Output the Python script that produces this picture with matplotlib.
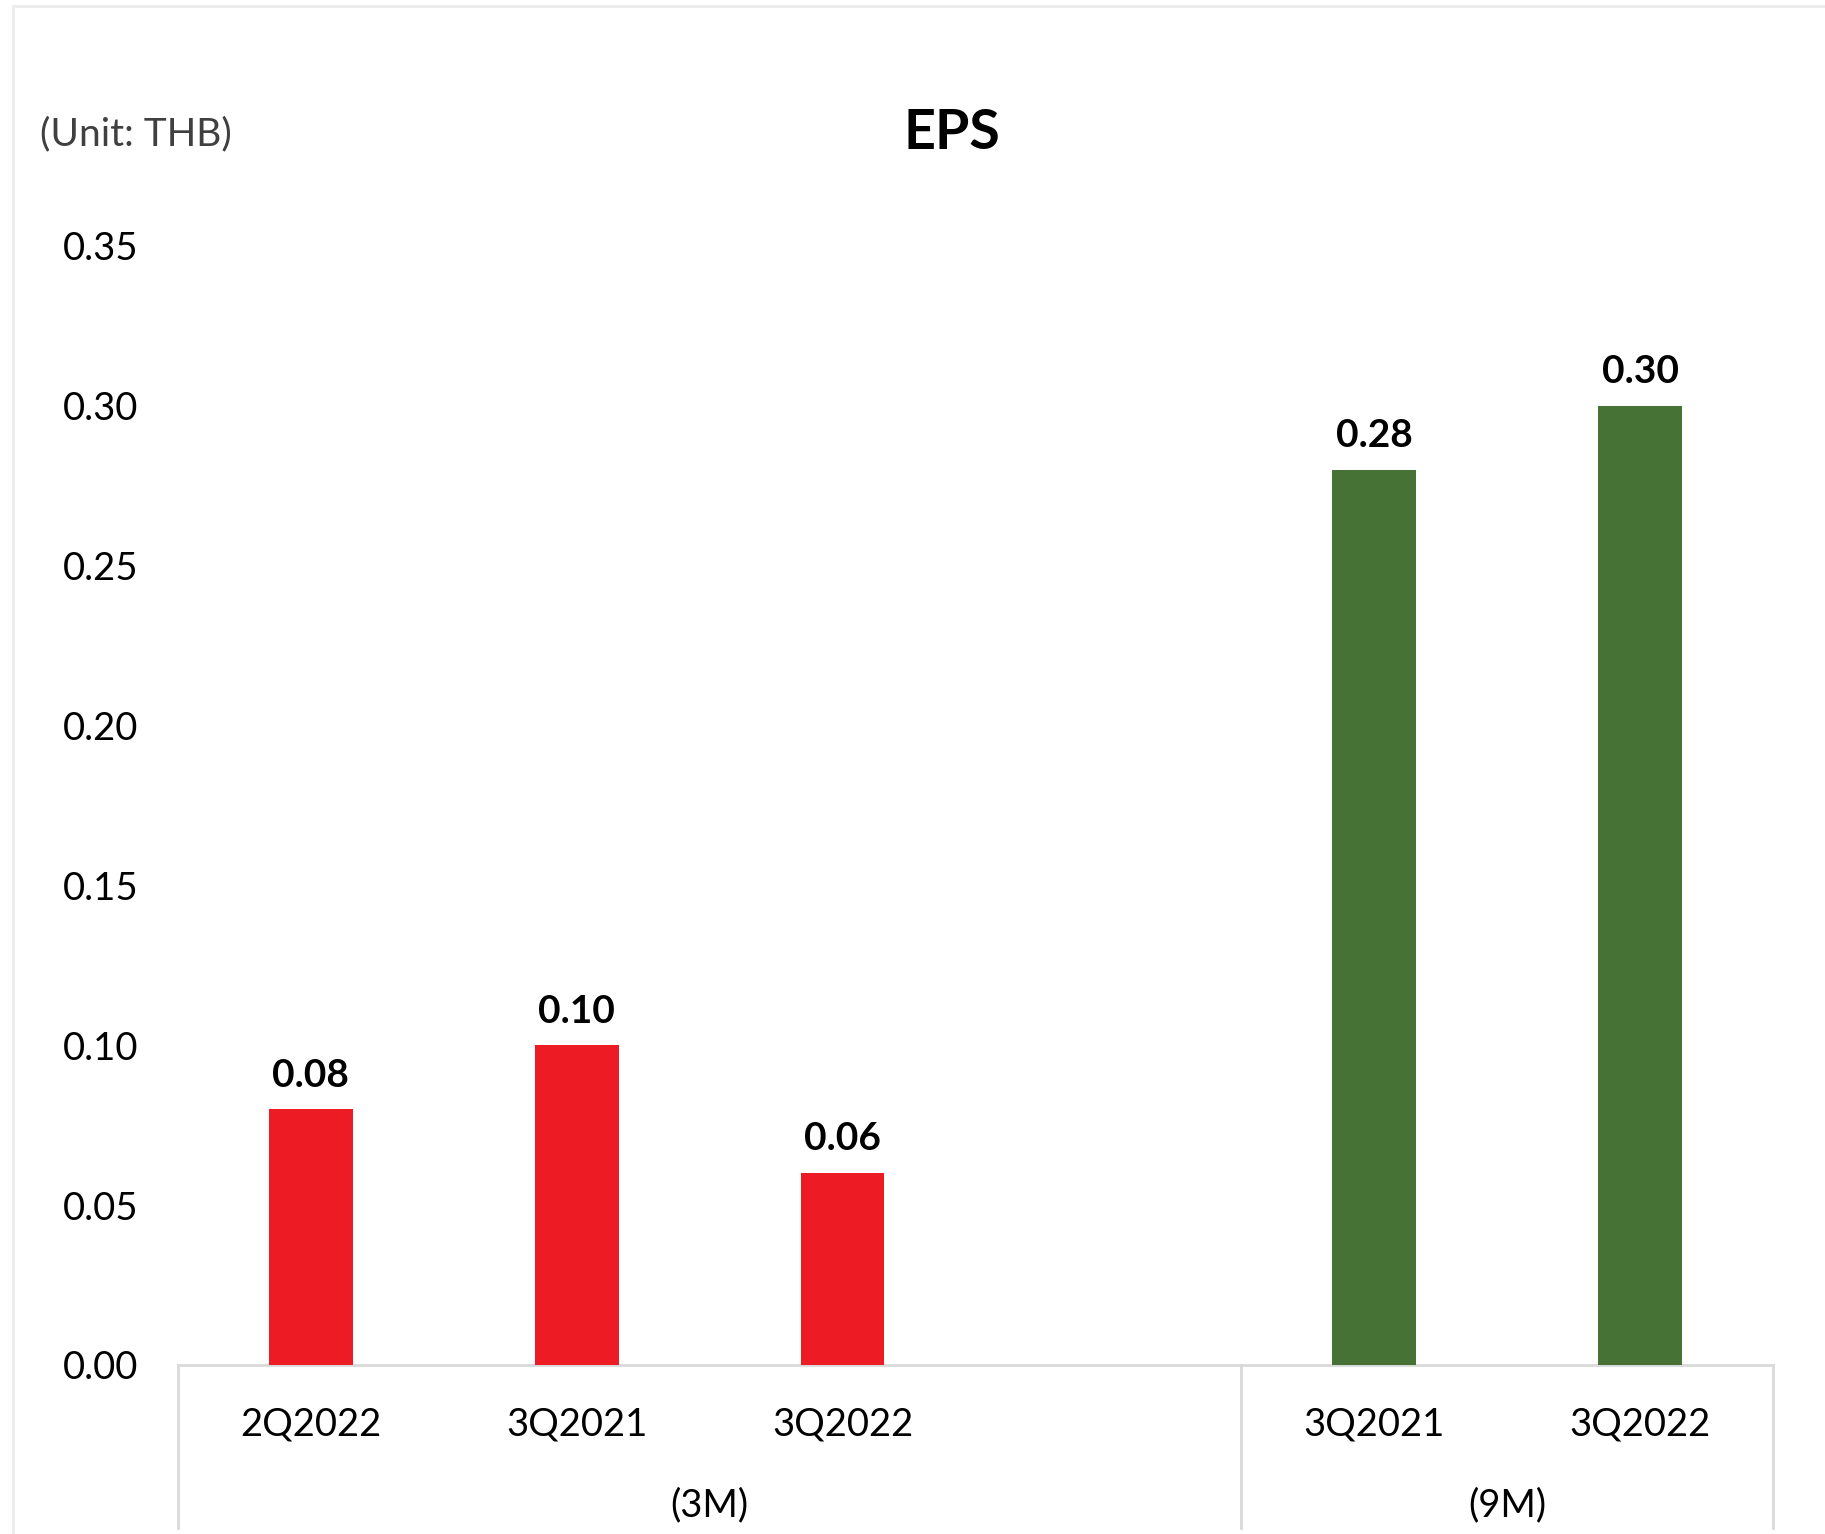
import matplotlib
matplotlib.use("Agg")
import matplotlib.pyplot as plt
from matplotlib.patches import Rectangle
import numpy as np

plt.rcParams['font.family'] = ['Lato', 'DejaVu Sans']

# data
labels_3m = ['2Q2022', '3Q2021', '3Q2022']
eps_3m = [0.08, 0.10, 0.06]
labels_9m = ['3Q2021', '3Q2022']
eps_9m = [0.28, 0.30]
groups = ['(3M)', '(9M)']
y_ticks = [0.00, 0.05, 0.10, 0.15, 0.20, 0.25, 0.30, 0.35]

red = '#ED1C24'
green = '#467236'
line_grey = '#D9D9D9'

# slot positions: 3M uses 0..2 plus an empty slot 3, 9M uses 4..5
pos_3m = np.arange(len(labels_3m))
pos_9m = np.arange(len(labels_9m)) + len(labels_3m) + 1
n_slots = len(labels_3m) + 1 + len(labels_9m)

fig = plt.figure(figsize=(18.25, 15.34), dpi=100)
ax = fig.add_axes([0.0975, 0.1102, 0.874, 0.7295])

# light frame around the chart area
fig.patches.append(Rectangle((13 / 1825, -0.1), 1.2, 1 - 6 / 1534 + 0.1,
                             transform=fig.transFigure, fill=False,
                             edgecolor='#EBEBEB', linewidth=2))

bw = 0.315
b1 = ax.bar(pos_3m, eps_3m, width=bw, color=red, zorder=3)
b2 = ax.bar(pos_9m, eps_9m, width=bw, color=green, zorder=3)

for bars, vals in ((b1, eps_3m), (b2, eps_9m)):
    for b, v in zip(bars, vals):
        ax.annotate('%.2f' % v, (b.get_x() + b.get_width() / 2, v),
                    xytext=(0, 12), textcoords='offset points',
                    ha='center', va='bottom', fontsize=28, fontweight='bold',
                    color='black')

ax.set_xlim(-0.5, n_slots - 0.5)
ax.set_ylim(0, 0.35)
ax.set_yticks(y_ticks)
ax.set_yticklabels(['%.2f' % t for t in y_ticks])
ax.tick_params(axis='y', length=0, pad=28.5, labelsize=27.5, labelcolor='black')
ax.set_xticks([])

for s in ['top', 'right', 'left']:
    ax.spines[s].set_visible(False)
ax.spines['bottom'].set_color(line_grey)
ax.spines['bottom'].set_linewidth(2)

# category labels below axis
tr = ax.get_xaxis_transform()
for p, lab in zip(list(pos_3m) + list(pos_9m), labels_3m + labels_9m):
    ax.text(p, -0.053, lab, transform=tr, ha='center', va='center',
            fontsize=27.5, color='black')

# group labels and dividers
edges = [-0.5, len(labels_3m) + 0.5, n_slots - 0.5]
for i, g in enumerate(groups):
    ax.text((edges[i] + edges[i + 1]) / 2, -0.125, g, transform=tr,
            ha='center', va='center', fontsize=27.5, color='black')
for e in edges:
    ax.plot([e, e], [0, -0.146], transform=tr, color=line_grey,
            linewidth=2, clip_on=False)

fig.text(952 / 1825, 1 - 133 / 1534, 'EPS', ha='center', va='center',
         fontsize=40, fontweight='bold', color='black')
fig.text(40 / 1825, 1 - 134 / 1534, '(Unit: THB)', ha='left', va='center',
         fontsize=28, color='#404040')

fig.savefig('out.png', dpi=100)
